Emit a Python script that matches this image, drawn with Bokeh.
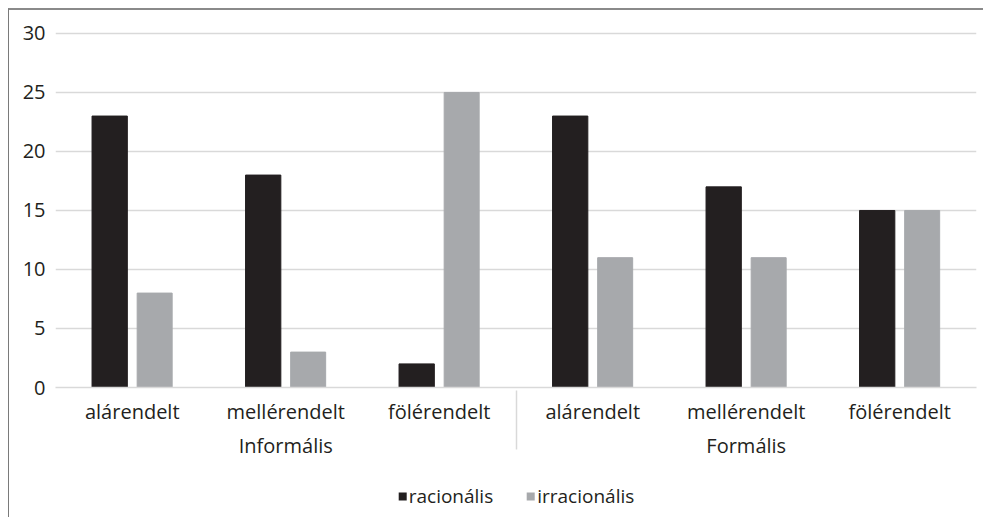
from bokeh.plotting import figure
from bokeh.layouts import column
from bokeh.models import FactorRange, Range1d, FixedTicker, ColumnDataSource, Legend, LegendItem
from bokeh.transform import dodge
from bokeh.embed import file_html
from bokeh.resources import INLINE

groups = ["Informális", "Formális"]
subcats = ["alárendelt", "mellérendelt", "fölérendelt"]
series = ["racionális", "irracionális"]
racionalis = [23, 18, 2, 23, 17, 15]
irracionalis = [8, 3, 25, 11, 11, 15]
y_ticks = [0, 5, 10, 15, 20, 25, 30]

factors = [(g, s) for g in groups for s in subcats]
src = ColumnDataSource(dict(x=factors, r=racionalis, i=irracionalis))

FONT = "Open Sans"
TXT = "#231f20"
dark = "#231f20"
light = "#a7a9ac"

xr = FactorRange(*factors, group_padding=0, range_padding=0)
p = figure(width=975, height=451, output_backend="svg", toolbar_location=None,
           x_range=xr, y_range=Range1d(0, 30.25))
p.min_border_left = 46
p.min_border_right = 8
p.min_border_top = 20
p.min_border_bottom = 0
p.outline_line_color = None

p.vbar(x=dodge("x", -0.147, range=xr), top="r", width=0.23, source=src,
       fill_color=dark, line_color=dark)
p.vbar(x=dodge("x", 0.146, range=xr), top="i", width=0.228, source=src,
       fill_color=light, line_color=light)

p.yaxis.ticker = FixedTicker(ticks=y_ticks)
p.yaxis.axis_line_color = None
p.yaxis.major_tick_line_color = None
p.yaxis.minor_tick_line_color = None
p.yaxis.major_label_text_font = FONT
p.yaxis.major_label_text_font_size = "20px"
p.yaxis.major_label_text_color = TXT
p.yaxis.major_label_standoff = 4

p.ygrid.grid_line_color = "#d9d9d9"
p.ygrid.grid_line_width = 1.5
p.xgrid.grid_line_color = None

ax = p.xaxis[0]
ax.axis_line_color = "#d9d9d9"
ax.axis_line_width = 1.5
ax.major_tick_line_color = None
ax.minor_tick_line_color = None
ax.major_label_text_font = FONT
ax.major_label_text_font_size = "20px"
ax.major_label_text_color = TXT
ax.group_text_font = FONT
ax.group_text_font_size = "20px"
ax.group_text_font_style = "normal"
ax.group_text_color = TXT
ax.separator_line_color = "#d9d9d9"
ax.separator_line_width = 1.5
ax.major_label_standoff = 4

# legend strip (hidden copies of the series; only the legend shows)
lg = figure(width=975, height=56, output_backend="svg", toolbar_location=None,
            x_range=xr, y_range=Range1d(-200, -199))
lg.axis.visible = False
lg.grid.grid_line_color = None
lg.outline_line_color = None
lg.min_border_left = lg.min_border_right = lg.min_border_top = lg.min_border_bottom = 0
lr1 = lg.vbar(x=dodge("x", -0.147, range=xr), top="r", width=0.23, source=src,
              fill_color=dark, line_color=None, visible=False)
lr2 = lg.vbar(x=dodge("x", 0.146, range=xr), top="i", width=0.228, source=src,
              fill_color=light, line_color=None, visible=False)
legend = Legend(items=[LegendItem(label=series[0], renderers=[lr1]),
                       LegendItem(label=series[1], renderers=[lr2])],
                orientation="horizontal", location="top_center",
                border_line_color=None, background_fill_alpha=0,
                label_text_font=FONT, label_text_font_size="19px",
                label_text_color=TXT, glyph_width=10, glyph_height=10,
                label_standoff=2, spacing=32, padding=0, margin=22)
lg.add_layout(legend, "center")

layout = column(p, lg, spacing=0, margin=(8, 0, 0, 8),
                styles={"border-left": "1px solid #7a7a7a", "border-top": "2px solid #8a8a8a"})

open("out.html", "w").write(file_html(layout, INLINE))
